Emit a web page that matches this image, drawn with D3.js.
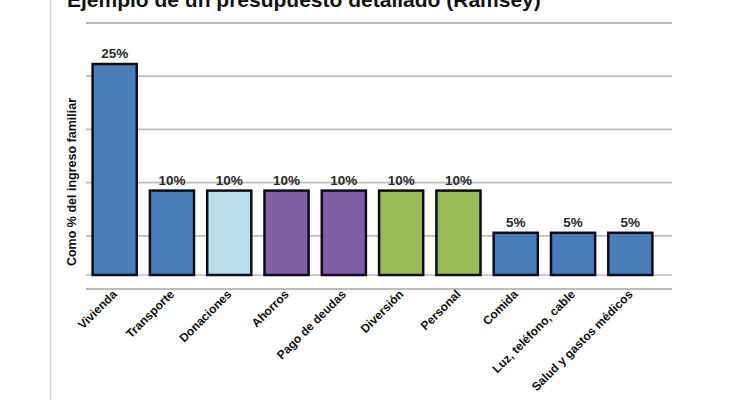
<!DOCTYPE html>
<html>
<head>
<meta charset="utf-8">
<script src="https://cdn.jsdelivr.net/npm/d3@7"></script>
<style>
  html, body { margin: 0; padding: 0; background: #fff; }
  svg { display: block; font-family: 'Liberation Sans', Arial, sans-serif; }
</style>
</head>
<body>
<div id="chart"></div>
<script>
// Presupuesto detallado (Ramsey)
const categories = ["Vivienda", "Transporte", "Donaciones", "Ahorros", "Pago de deudas",
    "Diversión", "Personal", "Comida", "Luz, teléfono, cable", "Salud y gastos médicos"];
const percentages = [25, 10, 10, 10, 10, 10, 10, 5, 5, 5];
const groups = ["basic", "basic", "giving", "saving", "saving", "fun", "fun", "basic", "basic", "basic"];
const gridSteps = [0, 1, 2, 3, 4, 5];

const groupColor = {
    basic: "#4a7ebb",
    giving: "#b7dde8",
    saving: "#7f60a6",
    fun: "#9bbb59"
};

const width = 730, height = 400;

const svg = d3.select("#chart")
    .append("svg")
    .attr("width", width)
    .attr("height", height);

// light frame line on the left
svg.append("line")
    .attr("x1", 50.5).attr("x2", 50.5)
    .attr("y1", 0).attr("y2", height)
    .attr("stroke", "#d4d4d4")
    .attr("stroke-width", 1.5);

// the title is cropped at the top edge, as in the source picture
svg.append("text")
    .attr("x", 67)
    .attr("y", 7)
    .attr("font-size", "21px")
    .attr("font-weight", "700")
    .attr("fill", "#111")
    .text("Ejemplo de un presupuesto detallado (Ramsey)");

const x = d3.scaleBand()
    .domain(categories)
    .range([86, 659])
    .paddingInner(0.23)
    .paddingOuter(0.115);

const y = d3.scaleLinear()
    .domain([0, 25])
    .range([275, 64]);

// gridlines in the original are not tied to the bar values
const grid = d3.scaleLinear()
    .domain([0, 5])
    .range([289, 23]);

const gridLeft = 86, gridRight = 672;

svg.append("g")
    .selectAll("line")
    .data(gridSteps)
    .enter()
    .append("line")
    .attr("x1", gridLeft)
    .attr("x2", gridRight)
    .attr("y1", d => grid(d))
    .attr("y2", d => grid(d))
    .attr("stroke", "#bdbdbd")
    .attr("stroke-width", 1.8);

// baseline of the bars
svg.append("line")
    .attr("x1", gridLeft)
    .attr("x2", gridRight)
    .attr("y1", y(0))
    .attr("y2", y(0))
    .attr("stroke", "#bdbdbd")
    .attr("stroke-width", 1.5);

svg.append("g")
    .selectAll("rect")
    .data(categories)
    .enter()
    .append("rect")
    .attr("x", d => x(d))
    .attr("y", (d, i) => y(percentages[i]))
    .attr("width", x.bandwidth())
    .attr("height", (d, i) => y(0) - y(percentages[i]))
    .attr("fill", (d, i) => groupColor[groups[i]])
    .attr("stroke", "#0b0d1c")
    .attr("stroke-width", 2.5);

svg.append("g")
    .selectAll("text")
    .data(categories)
    .enter()
    .append("text")
    .attr("x", d => x(d) + x.bandwidth() / 2)
    .attr("y", (d, i) => y(percentages[i]) - 6)
    .attr("text-anchor", "middle")
    .attr("font-size", "13.5px")
    .attr("font-weight", "700")
    .attr("fill", "#2a2a2a")
    .text((d, i) => percentages[i] + "%");

svg.append("g")
    .selectAll("text")
    .data(categories)
    .enter()
    .append("text")
    .attr("transform", d => `translate(${x(d) + x.bandwidth() / 2 + 3}, 295) rotate(-45)`)
    .attr("text-anchor", "end")
    .attr("font-size", "12px")
    .attr("font-weight", "700")
    .attr("fill", "#111")
    .text(d => d);

svg.append("text")
    .attr("transform", "translate(76, 182) rotate(-90)")
    .attr("text-anchor", "middle")
    .attr("font-size", "12.5px")
    .attr("font-weight", "700")
    .attr("fill", "#111")
    .text("Como % del ingreso familiar");
</script>
</body>
</html>
